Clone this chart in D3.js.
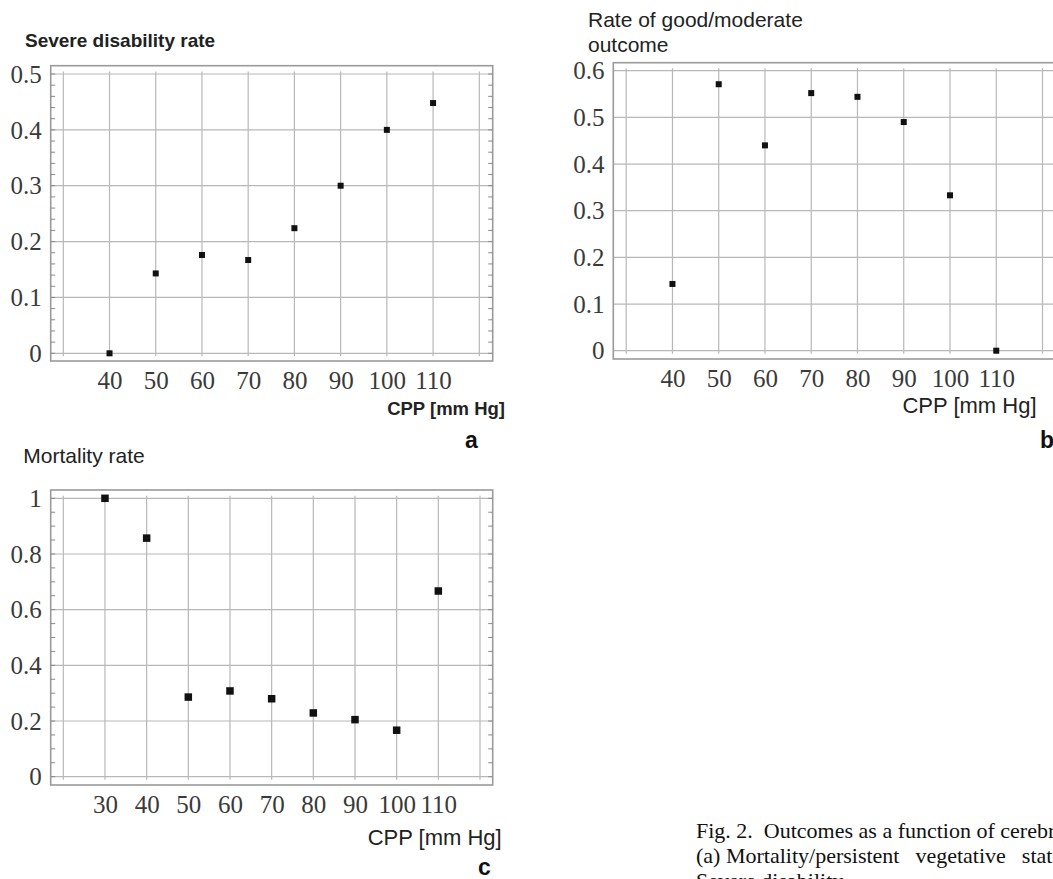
<!DOCTYPE html>
<html><head><meta charset="utf-8">
<script src="https://cdn.jsdelivr.net/npm/d3@7"></script>
<style>body{margin:0;background:#fff;overflow:hidden} svg{display:block}</style>
</head><body><svg id="chart" width="1053" height="879"></svg>
<script>
// ---- data ----
const cppAB = [40, 50, 60, 70, 80, 90, 100, 110];
const severeDisabilityRate = [0, 0.143, 0.176, 0.167, 0.224, 0.30, 0.40, 0.448];
const goodModerateRate = [0.143, 0.571, 0.44, 0.552, 0.544, 0.49, 0.333, 0];
const cppC = [30, 40, 50, 60, 70, 80, 90, 100, 110];
const mortalityRate = [1.0, 0.857, 0.286, 0.308, 0.28, 0.229, 0.205, 0.167, 0.667];

const xGridAB = [30, 40, 50, 60, 70, 80, 90, 100, 110, 120];
const xGridC = [20, 30, 40, 50, 60, 70, 80, 90, 100, 110, 120];
const xTickLabelsAB = [40, 50, 60, 70, 80, 90, 100, 110];
const xTickLabelsC = [30, 40, 50, 60, 70, 80, 90, 100, 110];
const yTicksA = [0, 0.1, 0.2, 0.3, 0.4, 0.5];
const yTicksB = [0, 0.1, 0.2, 0.3, 0.4, 0.5, 0.6];
const yTicksC = [0, 0.2, 0.4, 0.6, 0.8, 1];
const yMinorA = d3.range(0, 0.501, 0.02);
const yMinorC = d3.range(0, 1.001, 0.05);

const titleA = ["Severe disability rate"];
const titleB = ["Rate of good/moderate", "outcome"];
const titleC = ["Mortality rate"];
const xTitle = "CPP [mm Hg]";
const caption = ["Fig. 2.  Outcomes as a function of cerebral perfusion pressure (CPP).",
                 ["(a) Mortality/persistent", "vegetative", "state; (b) good/moderate"],
                 "Severe disability"];

const svg = d3.select("#chart");
const SERIF = "'Liberation Serif','Times New Roman',serif";
const SANS = "'Liberation Sans',Arial,Helvetica,sans-serif";

function panel(o) {
  const g = svg.append("g");
  const x = d3.scaleLinear().domain(o.xDomain).range(o.xRange);
  const y = d3.scaleLinear().domain(o.yDomain).range(o.yRange);
  const f = o.frame; // [left, top, right, bottom]

  // horizontal grid
  g.selectAll(".hg").data(o.yTicks).join("line")
    .attr("x1", f[0]).attr("x2", f[2])
    .attr("y1", d => y(d)).attr("y2", d => y(d))
    .attr("stroke", "#b8b8b8").attr("stroke-width", 1.2);
  // vertical grid
  const yTopV = y(o.yTicks[o.yTicks.length - 1]) - 2.5;
  const yBotV = y(0) + 3;
  g.selectAll(".vg").data(o.xGrid).join("line")
    .attr("x1", d => x(d)).attr("x2", d => x(d))
    .attr("y1", yTopV).attr("y2", yBotV)
    .attr("stroke", "#b8b8b8").attr("stroke-width", 1.2);
  // frame
  g.append("rect").attr("x", f[0]).attr("y", f[1])
    .attr("width", f[2] - f[0]).attr("height", f[3] - f[1])
    .attr("fill", "none").attr("stroke", "#9a9a9a").attr("stroke-width", 1.6);
  // minor ticks
  if (o.yMinor) {
    g.selectAll(".ml").data(o.yMinor).join("line")
      .attr("x1", f[0]).attr("x2", f[0] + 4.5)
      .attr("y1", d => y(d)).attr("y2", d => y(d))
      .attr("stroke", "#8a8a8a").attr("stroke-width", 1);
    g.selectAll(".mr").data(o.yMinor).join("line")
      .attr("x1", f[2]).attr("x2", f[2] - 4.5)
      .attr("y1", d => y(d)).attr("y2", d => y(d))
      .attr("stroke", "#8a8a8a").attr("stroke-width", 1);
  }
  // markers
  const s = o.markerSize;
  g.selectAll(".pt").data(o.xs.map((d, i) => [d, o.ys[i]])).join("rect")
    .attr("x", d => x(d[0]) - s / 2).attr("y", d => y(d[1]) - s / 2)
    .attr("width", s).attr("height", s).attr("fill", "#111");

  // x tick labels
  const xa = g.append("g").attr("transform", `translate(0,${o.xLabelBaseline})`)
    .call(d3.axisBottom(x).tickValues(o.xLabels).tickSize(0).tickFormat(d3.format("d")));
  xa.select(".domain").remove();
  xa.selectAll("text").attr("y", 0).attr("dy", 0)
    .attr("font-family", SERIF).attr("font-size", 25).attr("fill", "#3a3a3a");
  // y tick labels
  const ya = g.append("g").attr("transform", `translate(${o.yLabelRight},0)`)
    .call(d3.axisLeft(y).tickValues(o.yTicks).tickSize(0).tickFormat(d => d3.format("")(d)));
  ya.select(".domain").remove();
  ya.selectAll("text").attr("x", 0).attr("dy", "0.33em")
    .attr("font-family", SERIF).attr("font-size", 25).attr("fill", "#3a3a3a");

  // title
  o.title.forEach((t, i) => {
    g.append("text").attr("x", o.titleX).attr("y", o.titleY + i * o.titleLH)
      .attr("font-family", SANS).attr("font-size", o.titleSize)
      .attr("font-weight", o.bold ? "bold" : "normal").attr("fill", "#222").text(t);
  });
  // x title
  g.append("text").attr("x", o.xTitleRight).attr("y", o.xTitleY)
    .attr("text-anchor", "end").attr("font-family", SANS)
    .attr("font-size", o.xTitleSize).attr("font-weight", o.bold ? "bold" : "normal")
    .attr("fill", "#222").text(xTitle);
  // panel letter
  g.append("text").attr("x", o.letterX).attr("y", o.letterY)
    .attr("font-family", SANS).attr("font-size", 23).attr("font-weight", "bold")
    .attr("fill", "#111").text(o.letter);
}

panel({
  frame: [50.7, 65.7, 492.7, 361],
  xDomain: [30, 120], xRange: [63.3, 479.3],
  yDomain: [0, 0.5], yRange: [353.3, 74],
  xGrid: xGridAB, yTicks: yTicksA, yMinor: yMinorA, xLabels: xTickLabelsAB,
  xs: cppAB, ys: severeDisabilityRate, markerSize: 6,
  xLabelBaseline: 389, yLabelRight: 41.7,
  title: titleA, titleX: 25, titleY: 47.3, titleLH: 24, titleSize: 19, bold: true,
  xTitleRight: 505, xTitleY: 415, xTitleSize: 18.5,
  letter: "a", letterX: 465, letterY: 448
});

panel({
  frame: [613.3, 62.7, 1056, 359],
  xDomain: [30, 120], xRange: [626.2, 1042.5],
  yDomain: [0, 0.6], yRange: [350.7, 70.7],
  xGrid: xGridAB, yTicks: yTicksB, yMinor: null, xLabels: xTickLabelsAB,
  xs: cppAB, ys: goodModerateRate, markerSize: 6,
  xLabelBaseline: 386.5, yLabelRight: 604.5,
  title: titleB, titleX: 588, titleY: 27.3, titleLH: 24.4, titleSize: 21, bold: false,
  xTitleRight: 1036.5, xTitleY: 413.3, xTitleSize: 22,
  letter: "b", letterX: 1040, letterY: 448
});

panel({
  frame: [50.7, 490, 492.7, 785],
  xDomain: [20, 120], xRange: [63.3, 480],
  yDomain: [0, 1], yRange: [776.7, 498.3],
  xGrid: xGridC, yTicks: yTicksC, yMinor: yMinorC, xLabels: xTickLabelsC,
  xs: cppC, ys: mortalityRate, markerSize: 7.5,
  xLabelBaseline: 813.3, yLabelRight: 41.7,
  title: titleC, titleX: 23.3, titleY: 463.3, titleLH: 24, titleSize: 21, bold: false,
  xTitleRight: 501.7, xTitleY: 845, xTitleSize: 22,
  letter: "c", letterX: 478, letterY: 875
});

// caption (cropped at the figure edge, as in the source)
const cap = svg.append("g").attr("font-family", SERIF).attr("font-size", 22).attr("fill", "#111");
cap.append("text").attr("x", 696).attr("y", 838).style("white-space", "pre").text(caption[0]);
const l2 = cap.append("text").attr("x", 696).attr("y", 863);
caption[1].forEach((w, i) => {
  l2.append("tspan").attr("dx", i === 0 ? 0 : 16).text(w);
});
cap.append("text").attr("x", 696).attr("y", 888).text(caption[2]);
</script></body></html>
